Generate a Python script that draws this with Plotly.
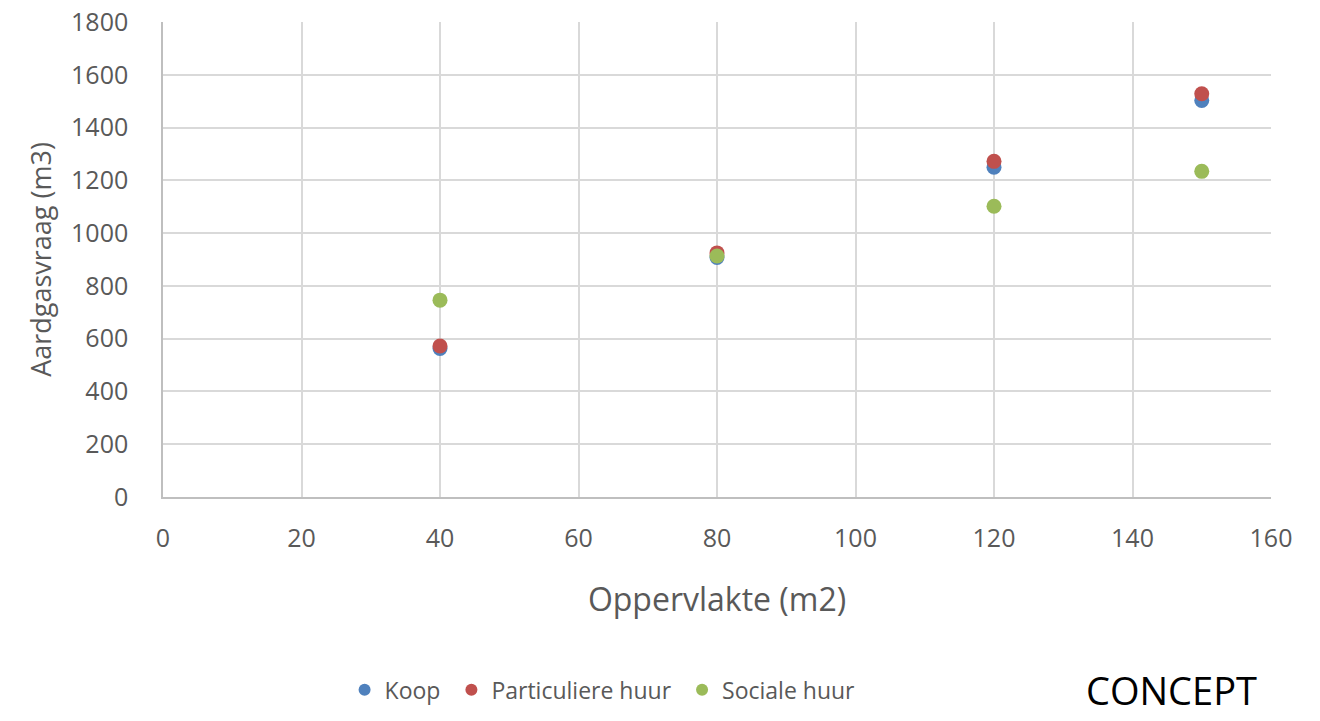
import plotly.graph_objects as go

# Woningoppervlakte (m2) en gemiddelde aardgasvraag (m3) per eigendomsvorm
oppervlakte = [40, 80, 120, 150]
koop = [563, 908, 1250, 1503]
particuliere_huur = [572, 925, 1272, 1528]
sociale_huur = [746, 913, 1102, 1234]

series = [
    ("Koop", koop, "#4F81BD"),
    ("Particuliere huur", particuliere_huur, "#C0504D"),
    ("Sociale huur", sociale_huur, "#9BBB59"),
]

x_ticks = [0, 20, 40, 60, 80, 100, 120, 140, 160]
y_ticks = [0, 200, 400, 600, 800, 1000, 1200, 1400, 1600, 1800]

font_family = "'Open Sans', sans-serif"
tick_color = "#595959"
pad = "\u00a0"  # extra spacing between legend entries

fig = go.Figure()
for name, values, color in series:
    fig.add_trace(go.Scatter(
        x=oppervlakte, y=values, name=name + pad, mode="markers",
        marker=dict(size=15, color=color, line=dict(width=0)),
    ))

fig.update_layout(
    width=1320, height=721,
    margin=dict(l=163, r=49, t=22, b=224, autoexpand=False),
    paper_bgcolor="white", plot_bgcolor="white",
    font=dict(family=font_family, color=tick_color, size=25),
    showlegend=True,
    legend=dict(
        orientation="h", x=0.399, y=-0.406, xanchor="center", yanchor="middle",
        font=dict(size=23, color=tick_color), itemsizing="constant",
        itemwidth=30, tracegroupgap=0,
    ),
    xaxis=dict(
        range=[0, 160], tickvals=x_ticks, showgrid=True, gridcolor="#d9d9d9",
        gridwidth=1.5, zeroline=False, showline=True, linecolor="#bfbfbf",
        linewidth=1.5, ticks="", ticklabelstandoff=18, automargin=False,
        title=dict(text="Oppervlakte (m2)", font=dict(size=32, color=tick_color), standoff=36),
    ),
    yaxis=dict(
        range=[0, 1800], tickvals=y_ticks, showgrid=True, gridcolor="#d9d9d9",
        gridwidth=1.5, zeroline=False, showline=True, linecolor="#bfbfbf",
        linewidth=1.5, ticks="", ticklabelstandoff=28, automargin=False,
        title=dict(text="Aardgasvraag (m3)", font=dict(size=27, color=tick_color), standoff=12),
    ),
    annotations=[dict(
        text="CONCEPT", xref="paper", yref="paper", x=0.91, y=-0.465,
        xanchor="center", yanchor="bottom", showarrow=False,
        font=dict(size=38, color="black", family="'Open Sans', sans-serif"),
    )],
)

fig.write_html("out.html")
